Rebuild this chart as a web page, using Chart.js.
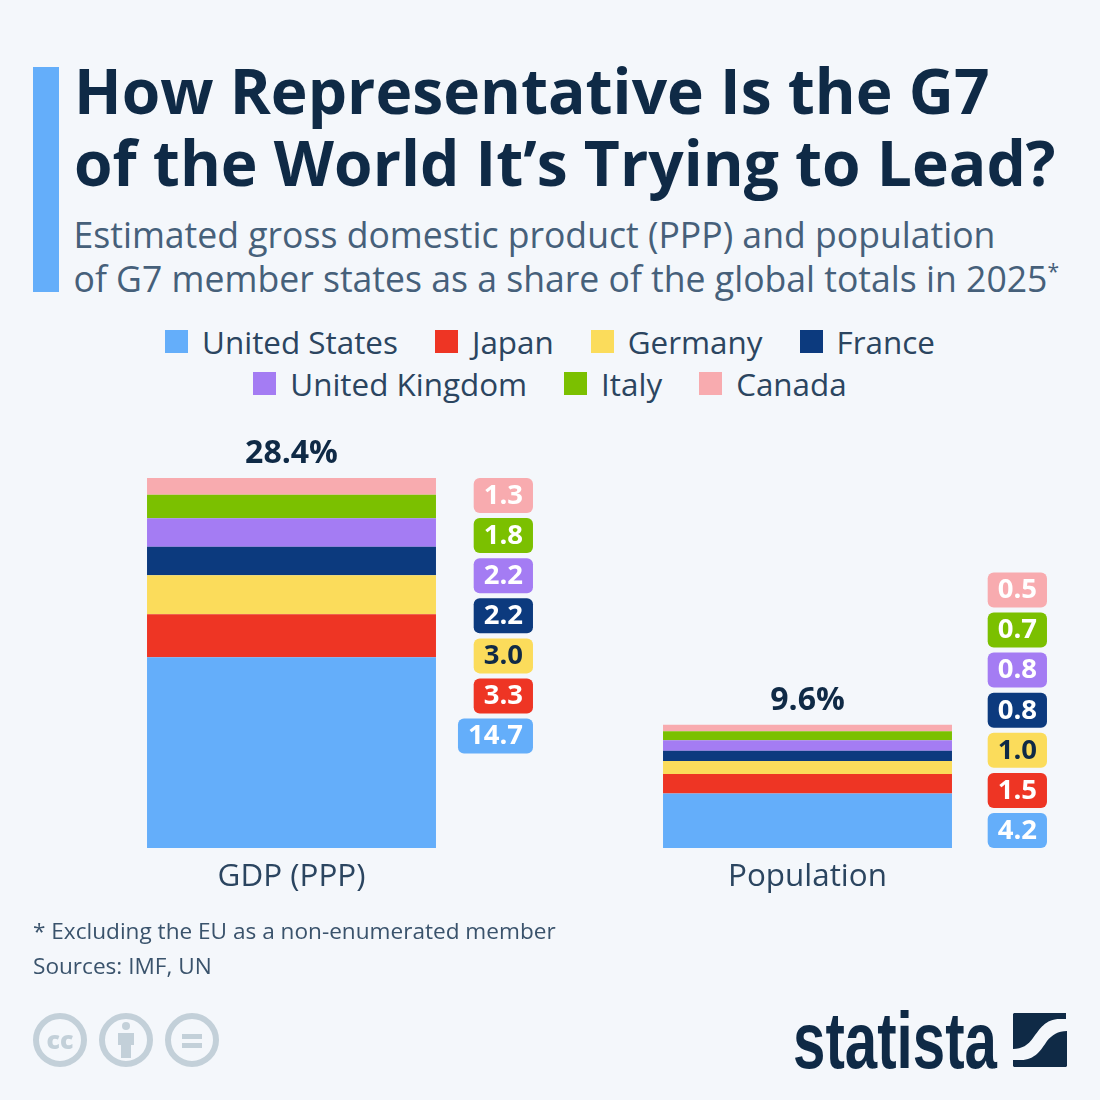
<!DOCTYPE html>
<html>
<head>
<meta charset="utf-8">
<script src="https://cdn.jsdelivr.net/npm/chart.js@4"></script>
<style>
  html, body { margin: 0; padding: 0; background: #f4f7fb; }
  body { width: 1100px; height: 1100px; position: relative; overflow: hidden; font-family: "Open Sans", sans-serif; }
  canvas { position: absolute; left: 0; top: 0; }
  .txt { position: absolute; white-space: nowrap; }
  #accent { position: absolute; left: 33px; top: 67px; width: 26px; height: 225px; background: #64aefa; }
  #title { left: 74px; top: 54px; font-size: 62.3px; line-height: 72px; font-weight: 700; color: #0f2a46; }
  #subtitle { left: 73.5px; top: 212px; font-size: 35.6px; line-height: 44px; color: #46607a; }
  #subtitle sup { font-size: 21px; line-height: 0; }
  #notes { left: 33px; top: 912.5px; font-size: 22.6px; line-height: 35px; color: #3a536c; }
  #legend { position: absolute; left: 0; top: 320.5px; width: 1100px; display: flex; flex-wrap: wrap; justify-content: center; font-size: 31.4px; line-height: 42px; color: #2b4560; }
  #legend .row { width: 100%; display: flex; justify-content: center; gap: 37px; }
  #legend .item { display: flex; align-items: center; gap: 14px; }
  #legend .box { width: 23px; height: 23px; }
  #brand { left: 792.5px; top: 1001px; font-family: "Liberation Sans", sans-serif; font-weight: 700; font-size: 80px; line-height: 80px; color: #0f2a46; transform: scaleX(0.728); transform-origin: left top; }
  svg { position: absolute; }
</style>
</head>
<body>
<div id="accent"></div>
<div class="txt" id="title">How Representative Is the G7<br>of the World It’s Trying to Lead?</div>
<div class="txt" id="subtitle">Estimated gross domestic product (PPP) and population<br>of G7 member states as a share of the global totals in 2025<sup>*</sup></div>
<div id="legend"></div>
<canvas id="chart" width="1100" height="1100"></canvas>
<div class="txt" id="notes">* Excluding the EU as a non-enumerated member<br>Sources: IMF, UN</div>

<svg style="left:30px;top:1010px" width="195" height="60" viewBox="0 0 195 60">
  <g fill="none" stroke="#c3d0d9" stroke-width="6">
    <circle cx="30" cy="30" r="24"/>
    <circle cx="96" cy="30" r="24"/>
    <circle cx="162" cy="30" r="24"/>
  </g>
  <text x="30" y="39" text-anchor="middle" font-family="Open Sans" font-weight="800" font-size="25" fill="#c3d0d9">cc</text>
  <circle cx="96" cy="16" r="4" fill="#c3d0d9"/>
  <path d="M88 23h16v12h-3v13h-10v-13h-3z" fill="#c3d0d9"/>
  <rect x="152" y="24" width="20" height="5" fill="#c3d0d9"/>
  <rect x="152" y="33" width="20" height="5" fill="#c3d0d9"/>
</svg>
<div class="txt" id="brand">statista</div>
<svg style="left:1013px;top:1013px" width="54" height="54" viewBox="0 0 54 54">
  <path d="M1 0H53V6H47C32 6 27 16 20 25C15 32 9 36 0 36V1Z" fill="#0f2a46"/>
  <path d="M54 18V53L53 54H1L0 53V47H8C22 47 28 37 34 28C39 22 45 18 54 18Z" fill="#0f2a46"/>
</svg>

<script>
const measures = ['GDP (PPP)', 'Population'];
const countries = ['United States', 'Japan', 'Germany', 'France', 'United Kingdom', 'Italy', 'Canada'];
const gdpShares = [14.7, 3.3, 3.0, 2.2, 2.2, 1.8, 1.3];
const populationShares = [4.2, 1.5, 1.0, 0.8, 0.8, 0.7, 0.5];
const totals = ['28.4%', '9.6%'];
const countryColors = ['#64aefa', '#ee3524', '#fbdc5b', '#0c3a7e', '#a47cf3', '#7bc000', '#f8abaf'];
const badgeTextColors = ['#fff', '#fff', '#0f2a46', '#fff', '#fff', '#fff', '#fff'];
const legendRows = [4, 3];

const dark = '#0f2a46';
const badgeHeight = 35;
const badgeStep = 40.1;
const badgeRightOffset = [97, 95];

// legend rows, the reference has a wider gap than the built in legend allows
const legendEl = document.getElementById('legend');
let next = 0;
legendRows.forEach(count => {
    const row = document.createElement('div');
    row.className = 'row';
    countries.slice(next, next + count).forEach((name, i) => {
        const item = document.createElement('div');
        item.className = 'item';
        const box = document.createElement('span');
        box.className = 'box';
        box.style.background = countryColors[next + i];
        item.appendChild(box);
        item.appendChild(document.createTextNode(name));
        row.appendChild(item);
    });
    legendEl.appendChild(row);
    next += count;
});

// totals above the bars and the little value tags next to them
const valueTags = {
    id: 'valueTags',
    afterDatasetsDraw(chart) {
        const ctx = chart.ctx;
        const last = chart.data.datasets.length - 1;
        ctx.save();
        ctx.textAlign = 'center';
        ctx.textBaseline = 'middle';
        measures.forEach((m, col) => {
            const topBar = chart.getDatasetMeta(last).data[col];
            const baseBar = chart.getDatasetMeta(0).data[col];
            ctx.font = '700 32px "Open Sans"';
            ctx.fillStyle = dark;
            ctx.fillText(totals[col], topBar.x, topBar.y - 24);

            const right = topBar.x + topBar.width / 2 + badgeRightOffset[col];
            chart.data.datasets.forEach((ds, i) => {
                // GDP tags hang from the bar top, population tags sit on the baseline
                const cy = col === 0
                    ? topBar.y + badgeHeight / 2 + (last - i) * badgeStep
                    : baseBar.base - badgeHeight / 2 - i * badgeStep;
                const label = ds.data[col].toFixed(1);
                ctx.font = '700 27.5px "Open Sans"';
                const w = ctx.measureText(label).width + 20;
                ctx.fillStyle = countryColors[i];
                ctx.beginPath();
                ctx.roundRect(right - w, cy - badgeHeight / 2, w, badgeHeight, 6);
                ctx.fill();
                ctx.fillStyle = badgeTextColors[i];
                ctx.fillText(label, right - w / 2, cy + 0.5);
            });
        });
        ctx.restore();
    }
};

new Chart(document.getElementById('chart').getContext('2d'), {
    type: 'bar',
    data: {
        labels: measures,
        datasets: countries.map((name, i) => ({
            label: name,
            data: [gdpShares[i], populationShares[i]],
            backgroundColor: countryColors[i],
            barPercentage: 0.56,
            categoryPercentage: 1
        }))
    },
    options: {
        responsive: false,
        animation: false,
        layout: { padding: { left: 33.5, right: 34.5, top: 458.5, bottom: 200 } },
        plugins: {
            tooltip: { enabled: false },
            legend: { display: false }
        },
        scales: {
            x: {
                stacked: true,
                grid: { display: false },
                border: { display: false },
                afterFit(scale) { scale.height = 52; },
                ticks: {
                    color: '#2b4560',
                    padding: 2,
                    font: { family: 'Open Sans', size: 31.4 }
                }
            },
            y: {
                stacked: true,
                display: false,
                min: 0,
                max: 30
            }
        }
    },
    plugins: [valueTags]
});
</script>
</body>
</html>
